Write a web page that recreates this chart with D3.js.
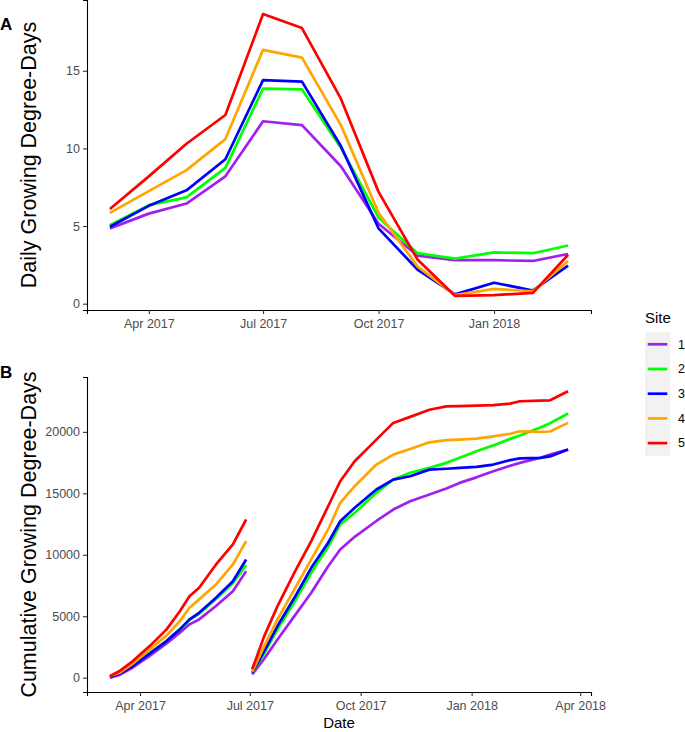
<!DOCTYPE html>
<html>
<head>
<meta charset="utf-8">
<script src="https://cdn.jsdelivr.net/npm/d3@7"></script>
<style>
  body { margin: 0; background: #fff; }
  svg { display: block; }
</style>
</head>
<body>
<div id="chart"></div>
<script>
// ---- data ----
const sites = ["1", "2", "3", "4", "5"];
const siteColors = ["#A020F0", "#00FF00", "#0000FF", "#FFA500", "#FF0000"];

// panel A: mean daily GDD per month
const monthDates = ["2017-03-01", "2017-04-01", "2017-05-01", "2017-06-01", "2017-07-01", "2017-08-01",
  "2017-09-01", "2017-10-01", "2017-11-01", "2017-12-01", "2018-01-01", "2018-02-01", "2018-03-01"];
const dailySite1 = [4.85, 5.8, 6.45, 8.2, 11.75, 11.5, 8.85, 5.15, 3.1, 2.8, 2.8, 2.75, 3.2];
const dailySite2 = [5.05, 6.35, 6.85, 8.75, 13.85, 13.8, 10.05, 5.55, 3.25, 2.9, 3.3, 3.25, 3.75];
const dailySite3 = [4.95, 6.3, 7.3, 9.3, 14.4, 14.3, 10.15, 4.85, 2.2, 0.6, 1.35, 0.85, 2.45];
const dailySite4 = [5.85, 7.25, 8.6, 10.6, 16.35, 15.85, 11.5, 5.85, 2.4, 0.55, 0.95, 0.8, 2.75];
const dailySite5 = [6.1, 8.2, 10.3, 12.15, 18.65, 17.75, 13.2, 7.2, 2.85, 0.5, 0.55, 0.7, 3.15];

// panel B: cumulative GDD, two logger segments
const cumDates1 = ["2017-03-07", "2017-03-15", "2017-03-26", "2017-04-09", "2017-04-23", "2017-05-04",
  "2017-05-12", "2017-05-20", "2017-06-03", "2017-06-17", "2017-06-28"];
const cum1Site1 = [0, 230, 830, 1770, 2780, 3660, 4340, 4740, 5830, 7040, 8670];
const cum1Site2 = [80, 380, 1000, 2000, 3000, 3930, 4700, 5200, 6400, 7700, 9150];
const cum1Site3 = [50, 320, 950, 1950, 2980, 3930, 4740, 5280, 6500, 7850, 9620];
const cum1Site4 = [130, 400, 1140, 2300, 3440, 4600, 5690, 6370, 7590, 9210, 11110];
const cum1Site5 = [130, 540, 1350, 2570, 3930, 5410, 6630, 7320, 9210, 10840, 12870];

const cumDates2 = ["2017-07-03", "2017-07-13", "2017-07-24", "2017-08-07", "2017-08-21", "2017-09-04",
  "2017-09-14", "2017-09-26", "2017-10-14", "2017-10-28", "2017-11-11", "2017-11-27", "2017-12-11",
  "2017-12-22", "2018-01-05", "2018-01-19", "2018-02-02", "2018-02-10", "2018-02-27", "2018-03-07",
  "2018-03-22"];
const cum2Site1 = [270, 1540, 3110, 5010, 6910, 9070, 10430, 11460, 12750, 13680, 14360, 14900, 15400,
  15850, 16300, 16800, 17250, 17480, 17900, 18150, 18560];
const cum2Site2 = [400, 1980, 3930, 6150, 8540, 10650, 12460, 13410, 15040, 16120, 16670, 17070, 17480,
  17900, 18420, 18900, 19430, 19700, 20350, 20700, 21490];
const cum2Site3 = [400, 2160, 4200, 6500, 8940, 10980, 12730, 13820, 15310, 16120, 16390, 16930, 17000,
  17070, 17150, 17340, 17700, 17850, 17890, 18000, 18560];
const cum2Site4 = [470, 2570, 4740, 7180, 9620, 12060, 14230, 15580, 17340, 18150, 18600, 19150, 19330,
  19370, 19450, 19640, 19850, 20050, 20000, 20030, 20730];
const cum2Site5 = [680, 3380, 5820, 8540, 11110, 13950, 15980, 17610, 19370, 20730, 21220, 21800, 22080,
  22100, 22140, 22180, 22300, 22490, 22550, 22570, 23300];

const ticksDailyY = [0, 5, 10, 15];
const ticksCumY = [0, 5000, 10000, 15000, 20000];
const ticksDateA = ["2017-04-01", "2017-07-01", "2017-10-01", "2018-01-01"];
const ticksDateB = ["2017-04-01", "2017-07-01", "2017-10-01", "2018-01-01", "2018-04-01"];

// ---- drawing ----
const width = 685, height = 732;
const font = "'Liberation Sans', Arial, sans-serif";
const parse = d3.utcParse("%Y-%m-%d");
const fmtMonth = d3.utcFormat("%b %Y");

const svg = d3.select("#chart").append("svg")
    .attr("width", width)
    .attr("height", height)
    .style("font-family", font);

// ggplot style 5% expansion of a data extent
function expand(ext) {
    const pad = (ext[1] - ext[0]) * 0.05;
    return [ext[0] - pad, ext[1] + pad];
}

const plotLeft = 87, plotRight = 591;

function makeSeries(dates, arrays) {
    return arrays.map((vals, i) => ({
        site: sites[i],
        color: siteColors[i],
        values: vals.map((v, j) => ({date: parse(dates[j]), value: v}))
    }));
}

function drawPanel(opts) {
    const g = svg.append("g");
    const allPts = opts.groups.flat().flatMap(s => s.values);

    const x = d3.scaleUtc()
        .domain(expand(d3.extent(allPts, d => +d.date)).map(t => new Date(t)))
        .range([plotLeft, plotRight]);
    const y = d3.scaleLinear()
        .domain(expand(d3.extent(allPts, d => d.value)))
        .range([opts.bottom, opts.top]);

    const line = d3.line()
        .x(d => x(d.date))
        .y(d => y(d.value));

    // lines, one group per segment
    opts.groups.forEach(series => {
        g.append("g")
            .selectAll("path")
            .data(series)
            .join("path")
            .attr("d", d => line(d.values))
            .attr("fill", "none")
            .attr("stroke", d => d.color)
            .attr("stroke-width", 2.7)
            .attr("stroke-linejoin", "round");
    });

    const xAxis = g.append("g")
        .attr("transform", `translate(0,${opts.bottom})`)
        .call(d3.axisBottom(x)
            .tickValues(opts.xTicks.map(parse))
            .tickFormat(fmtMonth)
            .tickSizeOuter(0)
            .tickSize(4)
            .tickPadding(5));

    const yAxis = g.append("g")
        .attr("transform", `translate(${plotLeft},0)`)
        .call(d3.axisLeft(y)
            .tickValues(opts.yTicks)
            .tickFormat(d3.format("d"))
            .tickSizeOuter(0)
            .tickSize(4)
            .tickPadding(3));

    [xAxis, yAxis].forEach(ax => {
        ax.select(".domain").attr("stroke", "#000").attr("stroke-width", 1.1);
        ax.selectAll(".tick line").attr("stroke", "#333").attr("stroke-width", 1.1);
        ax.selectAll(".tick text")
            .attr("fill", "#4D4D4D")
            .style("font-size", "12.5px")
            .style("font-family", font);
    });

    // y title
    g.append("text")
        .attr("transform", `translate(${opts.titleX},${(opts.top + opts.bottom) / 2}) rotate(-90)`)
        .attr("text-anchor", "middle")
        .style("font-size", "21.5px")
        .attr("fill", "#000")
        .text(opts.yTitle);

    // panel letter
    g.append("text")
        .attr("x", 0)
        .attr("y", opts.letterY)
        .style("font-size", "17px")
        .style("font-weight", "bold")
        .text(opts.letter);
}

drawPanel({
    top: 0, bottom: 310,
    groups: [makeSeries(monthDates, [dailySite1, dailySite2, dailySite3, dailySite4, dailySite5])],
    xTicks: ticksDateA, yTicks: ticksDailyY,
    yTitle: "Daily Growing Degree-Days", titleX: 36,
    letter: "A", letterY: 30
});

drawPanel({
    top: 377, bottom: 692,
    groups: [
        makeSeries(cumDates1, [cum1Site1, cum1Site2, cum1Site3, cum1Site4, cum1Site5]),
        makeSeries(cumDates2, [cum2Site1, cum2Site2, cum2Site3, cum2Site4, cum2Site5])
    ],
    xTicks: ticksDateB, yTicks: ticksCumY,
    yTitle: "Cumulative Growing Degree-Days", titleX: 36,
    letter: "B", letterY: 378
});

// x title
svg.append("text")
    .attr("x", (plotLeft + plotRight) / 2)
    .attr("y", 728)
    .attr("text-anchor", "middle")
    .style("font-size", "15px")
    .text("Date");

// legend
const legend = svg.append("g").attr("transform", "translate(645,312)");
legend.append("text")
    .attr("x", 0)
    .attr("y", 11)
    .style("font-size", "15px")
    .text("Site");
legend.append("rect")
    .attr("x", 0).attr("y", 20)
    .attr("width", 25).attr("height", 124)
    .attr("fill", "#F2F2F2");
const keys = legend.selectAll("g.key")
    .data(sites)
    .join("g")
    .attr("class", "key")
    .attr("transform", (d, i) => `translate(0,${32.3 + i * 24.7})`);
keys.append("line")
    .attr("x1", 2.7).attr("x2", 22.3)
    .attr("stroke", (d, i) => siteColors[i])
    .attr("stroke-width", 2.7);
keys.append("text")
    .attr("x", 33)
    .attr("dy", "0.35em")
    .style("font-size", "12.5px")
    .attr("fill", "#000")
    .text(d => d);
</script>
</body>
</html>
